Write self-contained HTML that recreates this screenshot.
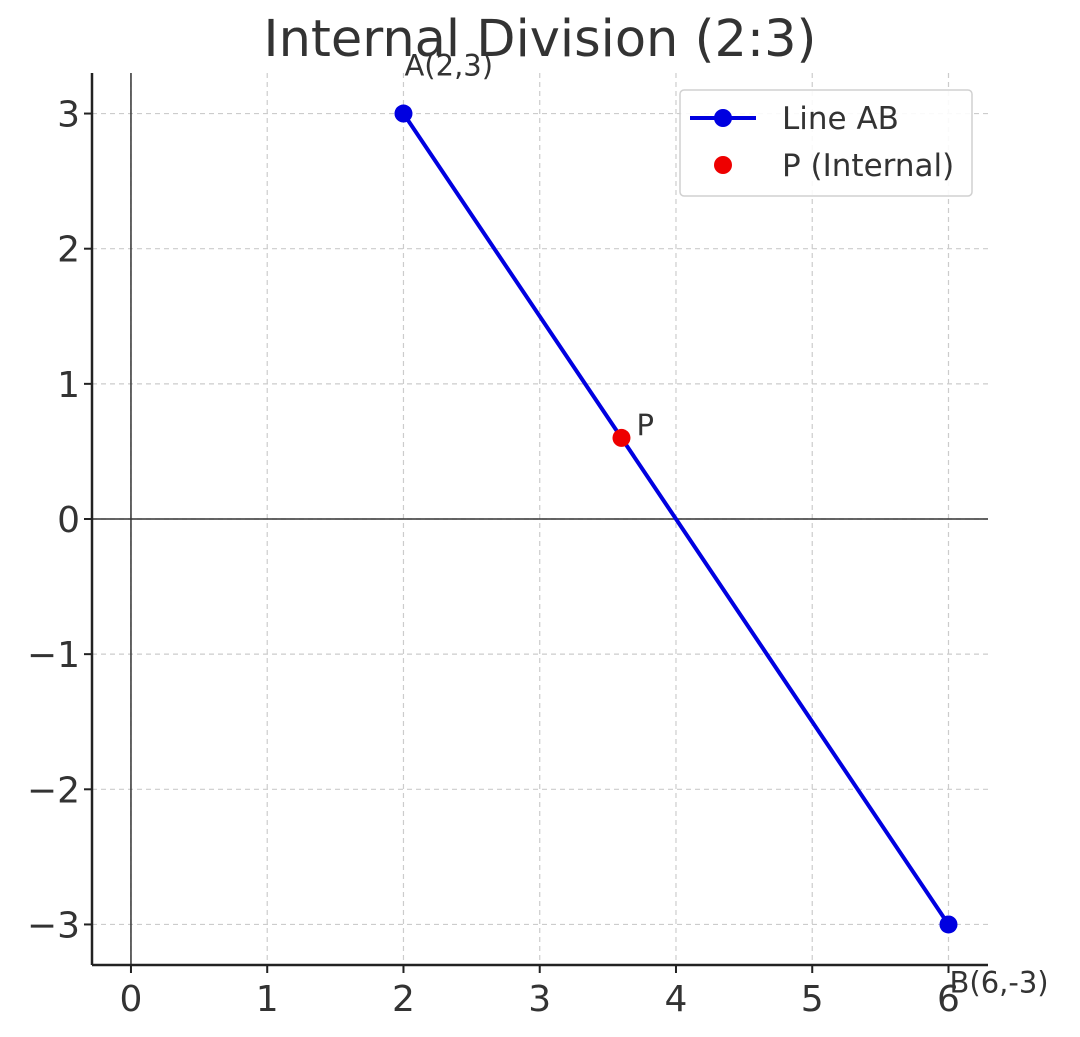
<!DOCTYPE html>
<html><head><meta charset="utf-8"><style>
body{margin:0;background:#fff;}
svg{font-family:"DejaVu Sans","Liberation Sans",sans-serif;}
</style></head><body>
<svg id="chart" width="1080" height="1032" xmlns="http://www.w3.org/2000/svg"></svg>
<script>
const xTicks=[0,1,2,3,4,5,6];
const yTicks=[-3,-2,-1,0,1,2,3];
const lineX=[2,6];
const lineY=[3,-3];
const pX=[3.6];
const pY=[0.6];
const pointLabels=["A(2,3)","B(6,-3)"];
const NS="http://www.w3.org/2000/svg";
const svg=document.getElementById('chart');
const L=92,R=988,T=73,B=965;
const xmin=-0.286,xmax=6.29,ymin=-3.3,ymax=3.3;
const sx=v=>L+(v-xmin)/(xmax-xmin)*(R-L);
const sy=v=>B-(v-ymin)/(ymax-ymin)*(B-T);
function el(tag,attrs,name,text){const e=document.createElementNS(NS,tag);for(const k in attrs)e.setAttribute(k,attrs[k]);


if(text!==undefined)e.textContent=text;svg.appendChild(e);return e;}
xTicks.forEach(v=>{el('line',{x1:sx(v),x2:sx(v),y1:T,y2:B,stroke:'#ccc','stroke-dasharray':'5,4','stroke-width':1.2},'x-grid-line');
el('line',{x1:sx(v),x2:sx(v),y1:B,y2:B+8,stroke:'#222','stroke-width':2},'x-tick');
el('text',{x:sx(v),y:B+46,'font-size':36,'text-anchor':'middle',fill:'#333'},'x-tick-label',String(v));});
yTicks.forEach(v=>{el('line',{x1:L,x2:R,y1:sy(v),y2:sy(v),stroke:'#ccc','stroke-dasharray':'5,4','stroke-width':1.2},'y-grid-line');
el('line',{x1:L-8,x2:L,y1:sy(v),y2:sy(v),stroke:'#222','stroke-width':2},'y-tick');
el('text',{x:L-12,y:sy(v)+13,'font-size':36,'text-anchor':'end',fill:'#333'},'y-tick-label',v<0?'\u2212'+(-v):String(v));});
el('line',{x1:L,x2:R,y1:sy(0),y2:sy(0),stroke:'#333','stroke-width':1.5},'x-zero-line');
el('line',{x1:sx(0),x2:sx(0),y1:T,y2:B,stroke:'#333','stroke-width':1.5},'y-zero-line');
el('line',{x1:L,x2:L,y1:T,y2:B,stroke:'#222','stroke-width':2.5},'left-spine');
el('line',{x1:L,x2:R,y1:B,y2:B,stroke:'#222','stroke-width':2.5},'bottom-spine');
el('polyline',{points:lineX.map((x,i)=>sx(x)+','+sy(lineY[i])).join(' '),fill:'none',stroke:'#0000e0','stroke-width':4},'line-ab');
lineX.forEach((x,i)=>el('circle',{cx:sx(x),cy:sy(lineY[i]),r:9,fill:'#0000e0'},'line-ab-point'));
el('text',{x:sx(lineX[0])+1,y:sy(lineY[0])-38,'font-size':29,fill:'#333'},'label-a',pointLabels[0]);
el('text',{x:sx(lineX[1])+1,y:sy(lineY[1])+68,'font-size':29,fill:'#333'},'label-b',pointLabels[1]);
el('circle',{cx:sx(pX[0]),cy:sy(pY[0]),r:9,fill:'#ee0000'},'point-p');
el('text',{x:sx(pX[0])+15,y:sy(pY[0])-3,'font-size':29,fill:'#333'},'label-p','P');
el('text',{x:540,y:56,'font-size':51,'text-anchor':'middle',fill:'#333'},'chart-title','Internal Division (2:3)');
el('rect',{x:680,y:90,width:292,height:106,rx:4,fill:'#fff',stroke:'#ccc','stroke-width':1.5,opacity:0.9},'legend-box');
el('line',{x1:690,x2:756,y1:118,y2:118,stroke:'#0000e0','stroke-width':4},'legend-line-swatch');
el('circle',{cx:723,cy:118,r:9,fill:'#0000e0'},'legend-line-marker');
el('text',{x:782,y:129,'font-size':31,fill:'#333'},'legend-line-ab','Line AB');
el('circle',{cx:723,cy:165,r:9,fill:'#ee0000'},'legend-p-marker');
el('text',{x:782,y:176,'font-size':31,fill:'#333'},'legend-p-internal','P (Internal)');
</script>
</body></html>
